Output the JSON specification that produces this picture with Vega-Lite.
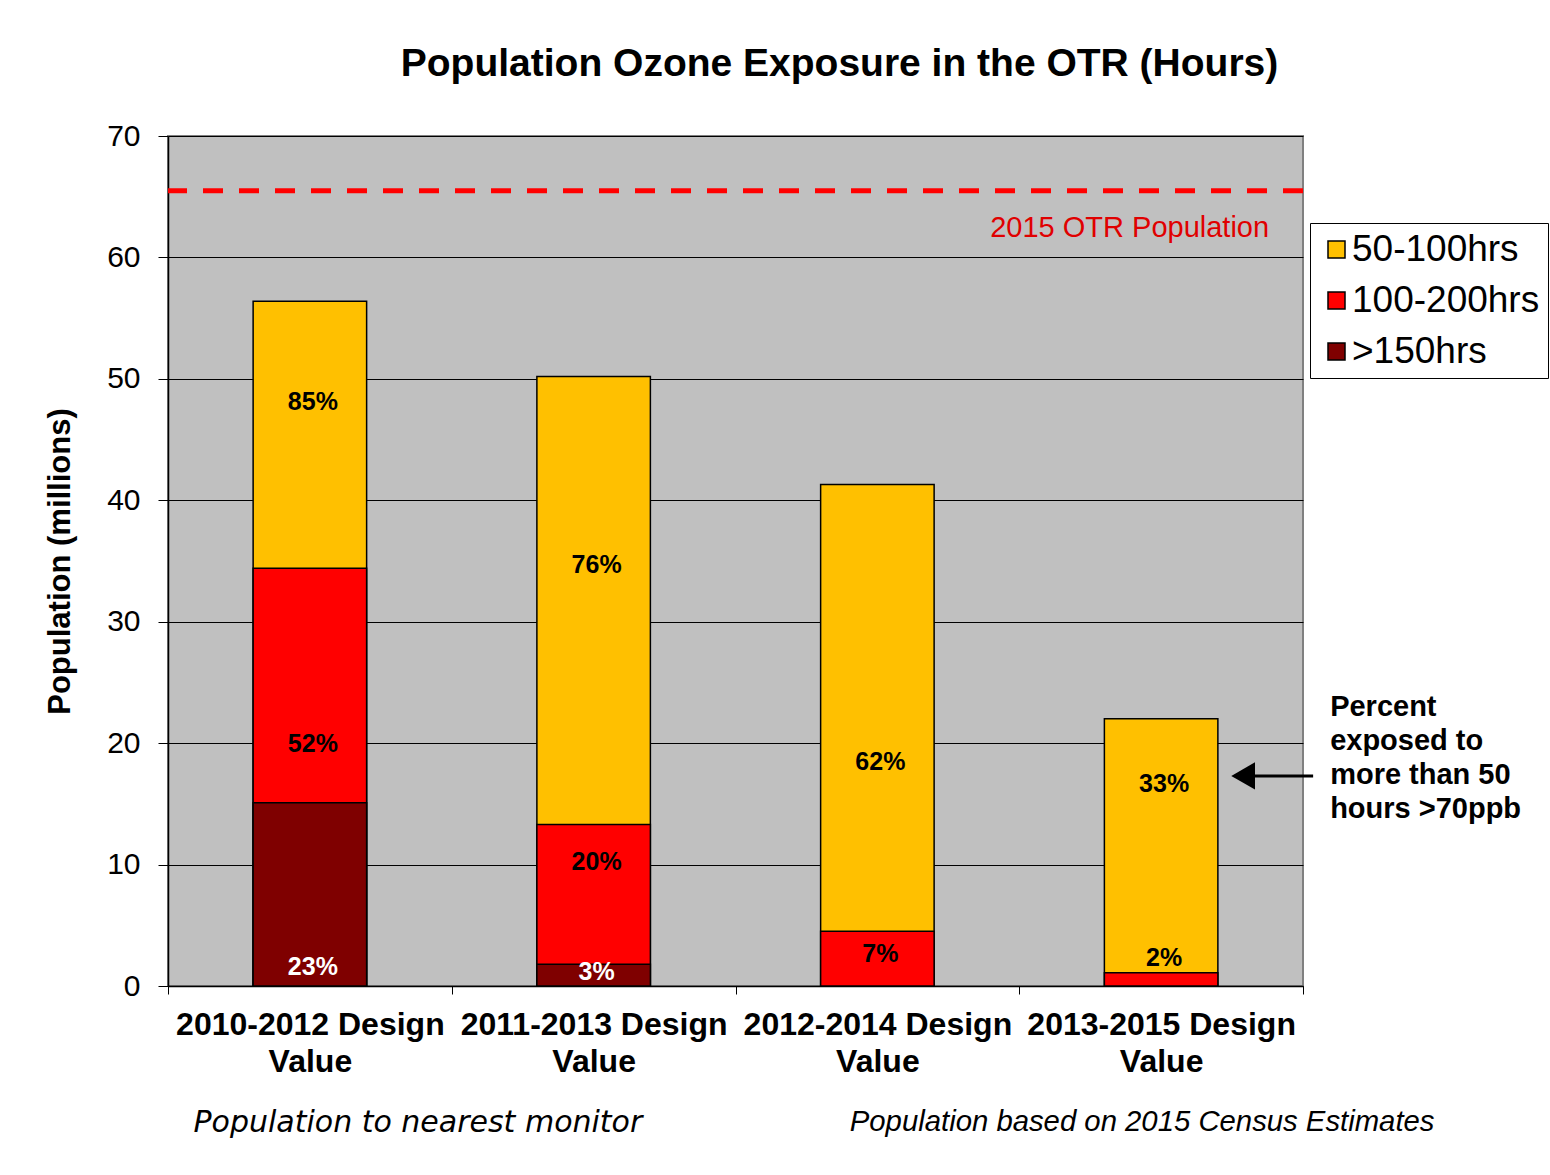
{
  "$schema": "https://vega.github.io/schema/vega-lite/v6.json",
  "width": 1135,
  "height": 850,
  "autosize": {"type": "none"},
  "padding": {"left": 168, "top": 136, "right": 247, "bottom": 189},
  "background": "white",
  "title": {
    "text": "Population Ozone Exposure in the OTR (Hours)",
    "font": "Liberation Sans",
    "fontSize": 39,
    "fontWeight": "bold",
    "color": "black",
    "anchor": "middle",
    "frame": "group",
    "dx": 104,
    "offset": 6,
    "baseline": "alphabetic"
  },
  "config": {
    "view": {"fill": "#C0C0C0", "stroke": "#808080", "strokeWidth": 2},
    "font": "Liberation Sans",
    "axis": {
      "labelFont": "Liberation Sans",
      "titleFont": "Liberation Sans",
      "labelColor": "black",
      "titleColor": "black",
      "domainColor": "black",
      "tickColor": "black"
    }
  },
  "datasets": {
    "bars": [
      {"period": "2010-2012 Design Value", "series": "50-100hrs", "population": 56.4, "pct": "85%", "labelAt": 48.1},
      {"period": "2010-2012 Design Value", "series": "100-200hrs", "population": 34.4, "pct": "52%", "labelAt": 19.9},
      {"period": "2010-2012 Design Value", "series": ">150hrs", "population": 15.1, "pct": "23%", "labelAt": 1.6},
      {"period": "2011-2013 Design Value", "series": "50-100hrs", "population": 50.2, "pct": "76%", "labelAt": 34.7},
      {"period": "2011-2013 Design Value", "series": "100-200hrs", "population": 13.3, "pct": "20%", "labelAt": 10.2},
      {"period": "2011-2013 Design Value", "series": ">150hrs", "population": 1.8, "pct": "3%", "labelAt": 1.15},
      {"period": "2012-2014 Design Value", "series": "50-100hrs", "population": 41.3, "pct": "62%", "labelAt": 18.45},
      {"period": "2012-2014 Design Value", "series": "100-200hrs", "population": 4.5, "pct": "7%", "labelAt": 2.6},
      {"period": "2013-2015 Design Value", "series": "50-100hrs", "population": 22.0, "pct": "33%", "labelAt": 16.6},
      {"period": "2013-2015 Design Value", "series": "100-200hrs", "population": 1.1, "pct": "2%", "labelAt": 2.3}
    ],
    "one": [{}]
  },
  "layer": [
    {
      "data": {"name": "bars"},
      "mark": {"type": "bar", "width": {"band": 0.4}, "stroke": "black", "strokeWidth": 1.5, "opacity": 1},
      "encoding": {
        "x": {
          "field": "period",
          "type": "nominal",
          "sort": null,
          "scale": {
            "domain": ["2010-2012 Design Value", "2011-2013 Design Value", "2012-2014 Design Value", "2013-2015 Design Value"],
            "paddingInner": 0,
            "paddingOuter": 0
          },
          "axis": {
            "title": null,
            "labelAngle": 0,
            "labelFontSize": 32,
            "labelFontWeight": "bold",
            "labelLineHeight": 37,
            "labelExpr": "datum.label && length(datum.label) > 0 ? [replace(datum.label, ' Value', ''), 'Value'] : ''",
            "tickBand": "extent",
            "tickSize": 8,
            "labelPadding": 15,
            "domainWidth": 1.5,
            "labelLimit": 400,
            "grid": false
          }
        },
        "y": {
          "field": "population",
          "type": "quantitative",
          "stack": null,
          "scale": {"domain": [0, 70], "nice": false},
          "axis": {
            "title": "Population (millions)",
            "values": [0, 10, 20, 30, 40, 50, 60, 70],
            "labelFontSize": 30,
            "titleFontSize": 31,
            "titleFontWeight": "bold",
            "grid": true,
            "gridColor": "black",
            "gridWidth": 1,
            "tickSize": 10,
            "labelPadding": 18,
            "titlePadding": 30,
            "domainWidth": 1.5
          }
        },
        "color": {
          "field": "series",
          "type": "nominal",
          "scale": {"domain": ["50-100hrs", "100-200hrs", ">150hrs"], "range": ["#FFC000", "#FF0000", "#7F0000"]},
          "legend": {
            "title": null,
            "orient": "none",
            "legendX": 1142,
            "legendY": 87,
            "direction": "vertical",
            "labelFontSize": 37,
            "labelFont": "Liberation Sans",
            "labelColor": "black",
            "symbolType": "square",
            "symbolSize": 289,
            "symbolStrokeColor": "black",
            "symbolStrokeWidth": 1.5,
            "symbolOpacity": 1,
            "rowPadding": 13,
            "labelOffset": -3,
            "padding": 8,
            "fillColor": "white",
            "strokeColor": "black",
            "labelLimit": 400
          }
        }
      }
    },
    {
      "data": {"name": "bars"},
      "mark": {"type": "text", "fontSize": 25, "fontWeight": "bold", "baseline": "middle", "align": "center", "dx": 3},
      "encoding": {
        "x": {"field": "period", "type": "nominal"},
        "y": {"field": "labelAt", "type": "quantitative"},
        "text": {"field": "pct"},
        "color": {"condition": {"test": "datum.series === '>150hrs'", "value": "white"}, "value": "black"}
      }
    },
    {
      "data": {"name": "one"},
      "mark": {"type": "rule", "color": "#FF0000", "strokeWidth": 5, "strokeDash": [20, 16]},
      "encoding": {"y": {"datum": 65.5}}
    },
    {
      "data": {"name": "one"},
      "mark": {"type": "text", "text": "2015 OTR Population", "fontSize": 29, "color": "#E00000", "align": "right", "baseline": "middle", "dx": 108},
      "encoding": {"x": {"datum": "2013-2015 Design Value"}, "y": {"datum": 62.4}}
    },
    {
      "data": {"name": "one"},
      "mark": {"type": "rule", "color": "black", "strokeWidth": 3, "xOffset": 80, "x2Offset": 152},
      "encoding": {"x": {"datum": "2013-2015 Design Value"}, "x2": {"datum": "2013-2015 Design Value"}, "y": {"datum": 17.3}}
    },
    {
      "data": {"name": "one"},
      "mark": {"type": "point", "shape": "triangle-left", "filled": true, "color": "black", "opacity": 1, "size": 750, "xOffset": 82},
      "encoding": {"x": {"datum": "2013-2015 Design Value"}, "y": {"datum": 17.3}}
    },
    {
      "data": {"name": "one"},
      "mark": {"type": "text", "text": "Percent\nexposed to\nmore than 50\nhours >70ppb", "lineBreak": "\n", "lineHeight": 34, "fontSize": 29, "fontWeight": "bold", "color": "black", "align": "left", "baseline": "middle", "dx": 169},
      "encoding": {"x": {"datum": "2013-2015 Design Value"}, "y": {"datum": 23.0}}
    },
    {
      "data": {"name": "one"},
      "mark": {"type": "text", "text": "Population to nearest monitor", "font": "DejaVu Sans", "fontStyle": "italic", "fontSize": 30, "color": "black", "align": "center", "baseline": "middle", "dx": 108},
      "encoding": {"x": {"datum": "2010-2012 Design Value"}, "y": {"datum": -11.3}}
    },
    {
      "data": {"name": "one"},
      "mark": {"type": "text", "text": "Population based on 2015 Census Estimates", "fontStyle": "italic", "fontSize": 29.3, "color": "black", "align": "center", "baseline": "middle", "dx": -19},
      "encoding": {"x": {"datum": "2013-2015 Design Value"}, "y": {"datum": -11.2}}
    }
  ]
}
